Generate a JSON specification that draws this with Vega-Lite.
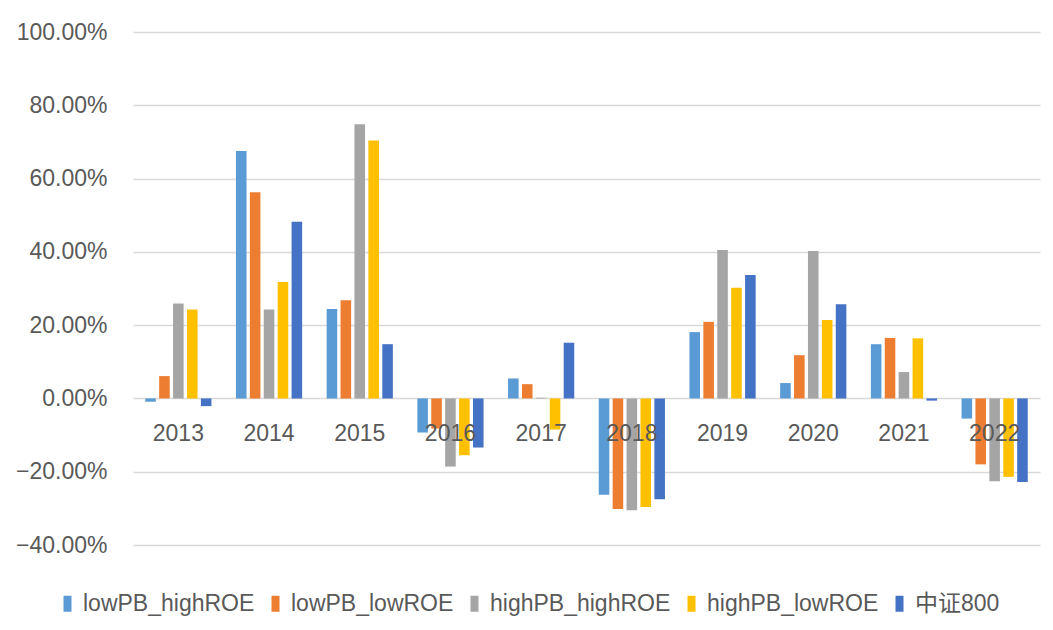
{
  "$schema": "https://vega.github.io/schema/vega-lite/v6.json",
  "autosize": "none",
  "padding": {"left": 133, "top": 32, "right": 13, "bottom": 85},
  "width": 907,
  "height": 513,
  "background": "white",
  "config": {
    "view": {"stroke": null},
    "font": "Liberation Sans",
    "axis": {"labelFont": "Liberation Sans", "labelColor": "#595959", "labelFontSize": 23},
    "legend": {"labelFont": "Liberation Sans, Noto Sans CJK SC", "labelColor": "#595959", "labelFontSize": 23, "labelLimit": 400}
  },
  "data": {
    "values": [
      {"year": "2013", "s": "lowPB_highROE", "v": -0.009},
      {"year": "2013", "s": "lowPB_lowROE", "v": 0.061},
      {"year": "2013", "s": "highPB_highROE", "v": 0.259},
      {"year": "2013", "s": "highPB_lowROE", "v": 0.243},
      {"year": "2013", "s": "中证800", "v": -0.021},
      {"year": "2014", "s": "lowPB_highROE", "v": 0.675},
      {"year": "2014", "s": "lowPB_lowROE", "v": 0.563},
      {"year": "2014", "s": "highPB_highROE", "v": 0.243},
      {"year": "2014", "s": "highPB_lowROE", "v": 0.318},
      {"year": "2014", "s": "中证800", "v": 0.482},
      {"year": "2015", "s": "lowPB_highROE", "v": 0.244},
      {"year": "2015", "s": "lowPB_lowROE", "v": 0.268},
      {"year": "2015", "s": "highPB_highROE", "v": 0.748},
      {"year": "2015", "s": "highPB_lowROE", "v": 0.704},
      {"year": "2015", "s": "中证800", "v": 0.148},
      {"year": "2016", "s": "lowPB_highROE", "v": -0.093},
      {"year": "2016", "s": "lowPB_lowROE", "v": -0.082},
      {"year": "2016", "s": "highPB_highROE", "v": -0.186},
      {"year": "2016", "s": "highPB_lowROE", "v": -0.155},
      {"year": "2016", "s": "中证800", "v": -0.134},
      {"year": "2017", "s": "lowPB_highROE", "v": 0.0545},
      {"year": "2017", "s": "lowPB_lowROE", "v": 0.039},
      {"year": "2017", "s": "highPB_highROE", "v": 0.002},
      {"year": "2017", "s": "highPB_lowROE", "v": -0.085},
      {"year": "2017", "s": "中证800", "v": 0.152},
      {"year": "2018", "s": "lowPB_highROE", "v": -0.263},
      {"year": "2018", "s": "lowPB_lowROE", "v": -0.302},
      {"year": "2018", "s": "highPB_highROE", "v": -0.305},
      {"year": "2018", "s": "highPB_lowROE", "v": -0.296},
      {"year": "2018", "s": "中证800", "v": -0.275},
      {"year": "2019", "s": "lowPB_highROE", "v": 0.181},
      {"year": "2019", "s": "lowPB_lowROE", "v": 0.209},
      {"year": "2019", "s": "highPB_highROE", "v": 0.405},
      {"year": "2019", "s": "highPB_lowROE", "v": 0.302},
      {"year": "2019", "s": "中证800", "v": 0.337},
      {"year": "2020", "s": "lowPB_highROE", "v": 0.042},
      {"year": "2020", "s": "lowPB_lowROE", "v": 0.118},
      {"year": "2020", "s": "highPB_highROE", "v": 0.402},
      {"year": "2020", "s": "highPB_lowROE", "v": 0.214},
      {"year": "2020", "s": "中证800", "v": 0.257},
      {"year": "2021", "s": "lowPB_highROE", "v": 0.148},
      {"year": "2021", "s": "lowPB_lowROE", "v": 0.165},
      {"year": "2021", "s": "highPB_highROE", "v": 0.072},
      {"year": "2021", "s": "highPB_lowROE", "v": 0.164},
      {"year": "2021", "s": "中证800", "v": -0.006},
      {"year": "2022", "s": "lowPB_highROE", "v": -0.055},
      {"year": "2022", "s": "lowPB_lowROE", "v": -0.180},
      {"year": "2022", "s": "highPB_highROE", "v": -0.226},
      {"year": "2022", "s": "highPB_lowROE", "v": -0.214},
      {"year": "2022", "s": "中证800", "v": -0.228}
    ]
  },
  "mark": {"type": "bar"},
  "encoding": {
    "x": {
      "field": "year", "type": "nominal", "sort": null,
      "scale": {"paddingInner": 0.27, "paddingOuter": 0.135},
      "axis": {"title": null, "labelAngle": 0, "domain": false, "ticks": false, "tickSize": 0, "offset": -146.7, "labelPadding": 24, "grid": false, "zindex": 1}
    },
    "xOffset": {
      "field": "s", "type": "nominal",
      "sort": ["lowPB_highROE", "lowPB_lowROE", "highPB_highROE", "highPB_lowROE", "中证800"],
      "scale": {"paddingInner": 0.24, "paddingOuter": 0}
    },
    "y": {
      "field": "v", "type": "quantitative",
      "scale": {"domain": [-0.4, 1.0], "nice": false, "zero": false},
      "axis": {"title": null, "format": ".2%", "values": [-0.4, -0.2, 0, 0.2, 0.4, 0.6, 0.8, 1.0], "domain": false, "ticks": false, "tickSize": 0, "labelPadding": 26, "gridColor": "#d9d9d9", "gridWidth": 1.5}
    },
    "color": {
      "field": "s", "type": "nominal",
      "scale": {
        "domain": ["lowPB_highROE", "lowPB_lowROE", "highPB_highROE", "highPB_lowROE", "中证800"],
        "range": ["#5B9BD5", "#ED7D31", "#A5A5A5", "#FFC000", "#4472C4"]
      },
      "legend": {
        "title": null, "orient": "none", "direction": "horizontal",
        "legendX": -77, "legendY": 560, "padding": 0,
        "symbolType": "M-0.5,-1H0.5V1H-0.5Z", "symbolSize": 256, "symbolStrokeWidth": 0,
        "labelOffset": 4, "columnPadding": 9, "columns": 5, "labelLimit": 400
      }
    }
  }
}
